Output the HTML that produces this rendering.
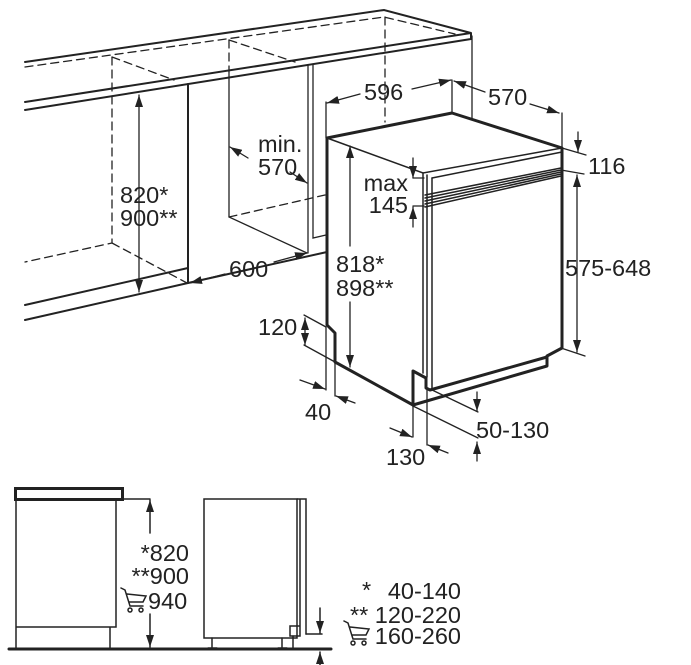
<!DOCTYPE html>
<html><head><meta charset="utf-8"><style>
html,body{margin:0;padding:0;background:#fff}
svg{display:block}
text{font-family:"Liberation Sans",sans-serif;font-size:23.5px;fill:#222}
</style></head><body>
<svg width="691" height="665" viewBox="0 0 691 665" xmlns="http://www.w3.org/2000/svg">
<defs>
<marker id="a" viewBox="0 0 12 8" refX="12" refY="4" markerWidth="12" markerHeight="8" markerUnits="userSpaceOnUse" orient="auto-start-reverse"><path d="M0,0 L12,4 L0,8 z" fill="#222"/></marker>
</defs>
<g stroke="#222" fill="none" stroke-linecap="round">
<g stroke-width="2">
<path d="M25,62 L384,10 L471,33 L25,102"/>
<path d="M25,110 L471,39 L471,33"/>
<path d="M25,305 L188,268"/>
<path d="M25,320 L188,283 L327,252"/>
<path d="M188,84 L188,283"/>
</g>
<g stroke-width="1.3">
<line x1="472" y1="36" x2="472" y2="118"/>
<path d="M25,67 L384,17 L455,34" stroke-dasharray="8,5"/>
<line x1="385" y1="17" x2="385" y2="122" stroke-dasharray="8,5"/>
<path d="M112,57 L112,243 L25,262" stroke-dasharray="8,5"/>
<path d="M112,57 L174,80" stroke-dasharray="8,5"/>
<path d="M112,243 L187,283" stroke-dasharray="8,5"/>
<line x1="229" y1="40" x2="229" y2="72" stroke-dasharray="8,5"/>
<path d="M229,40 L295,62" stroke-dasharray="8,5"/>
<path d="M229,72 L229,217 L307,253"/>
<path d="M229,217 L325,195" stroke-dasharray="8,5"/>
<path d="M308,65 L308,253"/>
<path d="M313,65 L313,238 L326,235"/>
<line x1="139" y1="95" x2="139" y2="292" marker-start="url(#a)" marker-end="url(#a)"/>
<line x1="248" y1="158" x2="230" y2="147" marker-end="url(#a)"/>
<line x1="290" y1="172" x2="307" y2="183" marker-end="url(#a)"/>
<line x1="225" y1="274" x2="190" y2="283" marker-end="url(#a)"/>
<line x1="274" y1="262" x2="307" y2="253" marker-end="url(#a)"/>
</g>
<g stroke-width="3" stroke-linejoin="round">
<path d="M327,138 L452,113 L562,148 L562,348 L547,356 L547,366 L413,405 L335,362 L335,333 L327,325 Z"/>
<path d="M413,405 L413,371 L426,378 L426,388 L430,390 L547,357"/>
</g>
<g stroke-width="1.5">
<path d="M327,138 L423,173 L562,148"/>
<path d="M432,178 L562,152"/>
<line x1="423" y1="173" x2="423" y2="373"/>
<line x1="427" y1="175" x2="427" y2="377"/>
<line x1="432" y1="178" x2="432" y2="388"/>
<path d="M425,195 L561,168 M425,198 L561,170 M425,201 L561,172 M425,204 L561,174 M425,207 L561,176"/>
</g>
<g stroke-width="1.3">
<line x1="326" y1="102" x2="326" y2="138"/>
<line x1="452" y1="80" x2="452" y2="113"/>
<line x1="562" y1="113" x2="562" y2="148"/>
<line x1="360" y1="94" x2="327" y2="103" marker-end="url(#a)"/>
<line x1="412" y1="89" x2="451" y2="80" marker-end="url(#a)"/>
<line x1="485" y1="92" x2="454" y2="81" marker-end="url(#a)"/>
<line x1="530" y1="104" x2="559" y2="113" marker-end="url(#a)"/>
<line x1="562" y1="148" x2="586" y2="155"/>
<line x1="578" y1="132" x2="578" y2="152" marker-end="url(#a)"/>
<line x1="561" y1="170" x2="584" y2="174"/>
<line x1="561" y1="348" x2="585" y2="356"/>
<line x1="577" y1="175" x2="577" y2="352" marker-start="url(#a)" marker-end="url(#a)"/>
<line x1="413" y1="158" x2="413" y2="178" marker-end="url(#a)"/>
<line x1="413" y1="227" x2="413" y2="207" marker-end="url(#a)"/>
<line x1="413" y1="178" x2="424" y2="178"/>
<line x1="413" y1="206" x2="424" y2="206"/>
<line x1="350" y1="146" x2="350" y2="246" marker-start="url(#a)"/>
<line x1="350" y1="302" x2="350" y2="367" marker-end="url(#a)"/>
<path d="M304,315 L326,327"/>
<path d="M304,345 L335,362"/>
<line x1="305" y1="318" x2="305" y2="345" marker-start="url(#a)" marker-end="url(#a)"/>
<line x1="326" y1="327" x2="326" y2="390"/>
<line x1="335" y1="362" x2="335" y2="396"/>
<line x1="300" y1="380" x2="325" y2="389" marker-end="url(#a)"/>
<line x1="355" y1="403" x2="336" y2="396" marker-end="url(#a)"/>
<line x1="413" y1="405" x2="413" y2="437"/>
<line x1="427" y1="390" x2="427" y2="445"/>
<line x1="390" y1="428" x2="412" y2="437" marker-end="url(#a)"/>
<line x1="448" y1="453" x2="428" y2="445" marker-end="url(#a)"/>
<path d="M413,406 L478,438"/>
<path d="M430,389 L478,412"/>
<line x1="477" y1="392" x2="477" y2="411" marker-end="url(#a)"/>
<line x1="477" y1="461" x2="477" y2="442" marker-end="url(#a)"/>
</g>
<rect x="15.5" y="488.5" width="107" height="11" stroke-width="3"/>
<g stroke-width="1.5">
<path d="M16,500 L16,648 M116,500 L116,627 L16,627 M110,627 L110,648"/>
<line x1="123" y1="499" x2="150" y2="499"/>
<line x1="150" y1="533" x2="150" y2="500" marker-end="url(#a)"/>
<line x1="150" y1="614" x2="150" y2="647" marker-end="url(#a)"/>
<rect x="204" y="499" width="93" height="139"/>
<path d="M297,499 L306,499 L306,634 M300,499 L300,634 M290,626 L300,626 L300,636 L290,636 Z"/>
<path d="M212,638 L212,647 M208,648 L217,648 M282,638 L282,647 M278,648 L287,648 M293,636 L293,648"/>
<line x1="306" y1="634" x2="322" y2="634"/>
<line x1="320" y1="608" x2="320" y2="633" marker-end="url(#a)"/>
<line x1="320" y1="665" x2="320" y2="652" marker-end="url(#a)"/>
</g>
<line x1="9" y1="649" x2="331" y2="649" stroke-width="3"/>
<g stroke-width="1.5">
<path d="M121,588 L125,590 L130,606 L143,606 M127,594 L146,596 L143,602 L129,602"/>
<circle cx="130" cy="610" r="2"/><circle cx="141" cy="610" r="2"/>
<path d="M344,621 L348,623 L353,639 L366,639 M350,627 L369,629 L366,635 L352,635"/>
<circle cx="353" cy="643" r="2"/><circle cx="364" cy="643" r="2"/>
</g>
</g>
<g>
<text x="120" y="203">820*</text>
<text x="120" y="226">900**</text>
<text x="258" y="152">min.</text>
<text x="258" y="175">570</text>
<text x="229" y="277">600</text>
<text x="364" y="100">596</text>
<text x="488" y="105">570</text>
<text x="588" y="174">116</text>
<text x="408" y="191" text-anchor="end">max</text>
<text x="408" y="213" text-anchor="end">145</text>
<text x="565" y="276">575-648</text>
<text x="336" y="272">818*</text>
<text x="336" y="296">898**</text>
<text x="258" y="335">120</text>
<text x="305" y="420">40</text>
<text x="386" y="465">130</text>
<text x="476" y="438">50-130</text>
<text x="189" y="561" text-anchor="end">*820</text>
<text x="189" y="584" text-anchor="end">**900</text>
<text x="148" y="609">940</text>
<text x="362" y="598">*</text>
<text x="461" y="599" text-anchor="end">40-140</text>
<text x="350" y="623">**</text>
<text x="461" y="623" text-anchor="end">120-220</text>
<text x="461" y="644" text-anchor="end">160-260</text>
</g>
</svg>
</body></html>
